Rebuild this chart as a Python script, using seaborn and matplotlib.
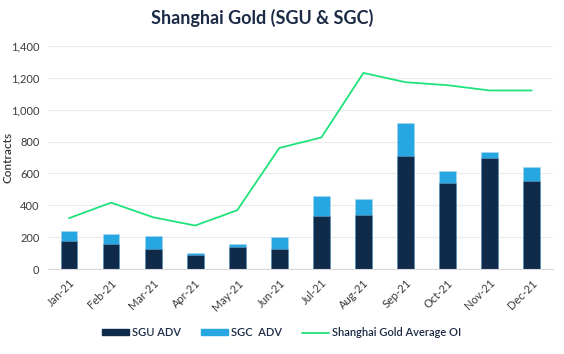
import numpy as np
import pandas as pd
import seaborn as sns
import matplotlib.pyplot as plt
from matplotlib.patches import Patch
from matplotlib.lines import Line2D
from matplotlib.ticker import FuncFormatter, FixedLocator

sns.set_theme(style="white")
plt.rcParams['font.family'] = ['Lato', 'DejaVu Sans']

months = ['Jan-21', 'Feb-21', 'Mar-21', 'Apr-21', 'May-21', 'Jun-21',
          'Jul-21', 'Aug-21', 'Sep-21', 'Oct-21', 'Nov-21', 'Dec-21']
sgu_adv = [177, 156, 125, 91, 140, 125, 334, 340, 711, 542, 699, 555]
sgc_adv = [61, 67, 85, 9, 16, 79, 125, 100, 205, 72, 34, 86]
avg_oi = [319, 417, 325, 273, 369, 760, 826, 1231, 1173, 1154, 1121, 1121]

navy = '#102a49'
blue = '#26a7e1'
green = '#1fe37a'
text_c = '#3a3a3a'

df = pd.DataFrame({'month': months, 'sgu': sgu_adv, 'sgc': sgc_adv, 'oi': avg_oi})
df['total'] = df['sgu'] + df['sgc']
df['pos'] = np.arange(len(df))

fig = plt.figure(figsize=(5.64, 3.54), dpi=100)
ax = fig.add_axes([0.085, 0.24, 0.895, 0.63])

sns.barplot(data=df, x='month', y='total', color=blue, width=0.4, saturation=1,
            edgecolor='#a9d8f2', linewidth=0.4, ax=ax)
sns.barplot(data=df, x='month', y='sgu', color=navy, width=0.4, saturation=1,
            edgecolor='#6f9cc4', linewidth=0.4, ax=ax)
sns.lineplot(x=df['pos'], y=df['oi'], color=green, linewidth=1.3, ax=ax)

ax.set_xlim(-0.5, 11.5)
ax.set_ylim(0, 1400)
ax.set_yticks(range(0, 1401, 200))
ax.yaxis.set_major_formatter(FuncFormatter(lambda v, p: f'{int(v):,}'))
ax.grid(axis='y', color='#ebebeb', linewidth=0.8)
ax.set_axisbelow(True)
for s in ['top', 'right', 'left']:
    ax.spines[s].set_visible(False)
ax.spines['bottom'].set_color('#d9d9d9')
ax.spines['bottom'].set_linewidth(0.8)

ax.set_xticks(df['pos'])
ax.set_xticklabels(months, rotation=45, ha='right', rotation_mode='anchor',
                   fontsize=8, color=text_c)
ax.tick_params(axis='x', which='major', length=0, pad=6)
ax.xaxis.set_minor_locator(FixedLocator(np.arange(-0.5, 12, 1)))
ax.tick_params(axis='x', which='minor', length=5, color='#d9d9d9', width=0.8)
ax.tick_params(axis='y', length=0, labelsize=8, labelcolor=text_c, pad=6)

ax.set_xlabel('')
ax.set_ylabel('Contracts', fontsize=8.5, color=text_c, fontweight='semibold')
ax.yaxis.set_label_coords(-0.068, 0.5)

fig.suptitle('Shanghai Gold (SGU & SGC)', x=0.465, y=0.975, fontsize=13,
             fontweight='bold', color='#1b2a45')

handles = [Patch(color=navy, label='SGU ADV'),
           Patch(color=blue, label='SGC  ADV'),
           Line2D([0], [0], color=green, linewidth=1.3, label='Shanghai Gold Average OI')]
fig.legend(handles=handles, loc='center', bbox_to_anchor=(0.5, 0.06), ncol=3,
           frameon=False, fontsize=8, handlelength=2.4, handleheight=0.45,
           handletextpad=0.3, columnspacing=1.8, labelcolor='#1b2a45',
           prop={'weight': 'semibold', 'size': 8})

fig.savefig('out.png', dpi=100)
